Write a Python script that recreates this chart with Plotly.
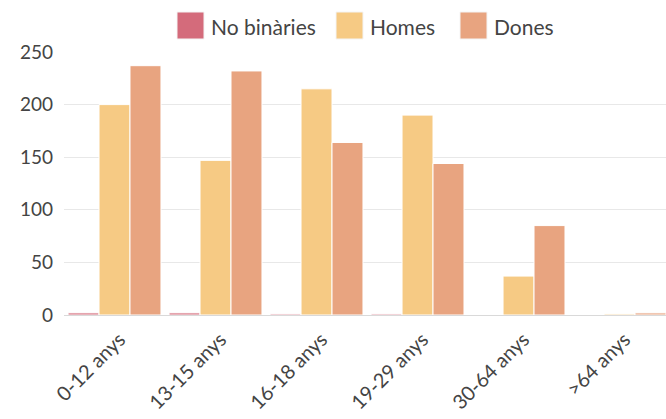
import plotly.graph_objects as go

categories = ["0-12 anys", "13-15 anys", "16-18 anys", "19-29 anys", "30-64 anys", ">64 anys"]
no_binaries = [2, 2, 1, 1, 0, 0]
homes = [200, 147, 215, 190, 37, 1]
dones = [237, 232, 164, 144, 85, 2]

series = [
    ("No binàries", no_binaries, "#d46b7b"),
    ("Homes", homes, "#f6ca84"),
    ("Dones", dones, "#e8a480"),
]

W, H = 666, 419
ML, MR, MT, MB = 64, 0, 52, 104
PW, PH = W - ML - MR, H - MT - MB


def px_x(p):
    return (p - ML) / PW


def px_y(p):
    return (H - MB - p) / PH


fig = go.Figure()
for name, vals, col in series:
    fig.add_trace(go.Bar(
        x=categories, y=vals, name=name, showlegend=False,
        marker=dict(color=col, line=dict(color="white", width=1)),
    ))

# custom legend (large square swatches)
legend_x = [177, 336, 460]
sq = 27
top = 12
shapes = []
annotations = []
for (name, _, col), lx in zip(series, legend_x):
    shapes.append(dict(type="rect", xref="paper", yref="paper",
                       x0=px_x(lx), x1=px_x(lx + sq), y0=px_y(top + sq), y1=px_y(top),
                       fillcolor=col, line=dict(color="#f4f4f4", width=1), layer="above"))
    annotations.append(dict(xref="paper", yref="paper", x=px_x(lx + sq + 5), y=px_y(top + sq / 2 + 0.5),
                            text=name, showarrow=False, xanchor="left", yanchor="middle",
                            font=dict(size=21, color="#444", family="Lato")))

fig.update_layout(
    width=W, height=H,
    barmode="group", bargap=0.08, bargroupgap=0.0,
    plot_bgcolor="white", paper_bgcolor="white",
    font=dict(family="Lato", size=18, color="#444"),
    margin=dict(l=ML, r=MR, t=MT, b=MB, autoexpand=False),
    showlegend=False,
    shapes=shapes, annotations=annotations,
    xaxis=dict(tickangle=-45, showgrid=False, linecolor="#d9d9d9", showline=True,
               tickfont=dict(size=20), ticks="", automargin=False,
               ticklabelshift=5, ticklabelstandoff=4,
               range=[-0.5, 5.46]),
    yaxis=dict(range=[0, 250], tickvals=[0, 50, 100, 150, 200, 250], gridcolor="#e8e8e8",
               zeroline=False, tickfont=dict(size=19), ticks="", ticklabelstandoff=10,
               automargin=False),
)

fig.write_html("out.html", config={"displayModeBar": False},
               post_script="document.body.style.margin='0';document.body.style.overflow='hidden';")
